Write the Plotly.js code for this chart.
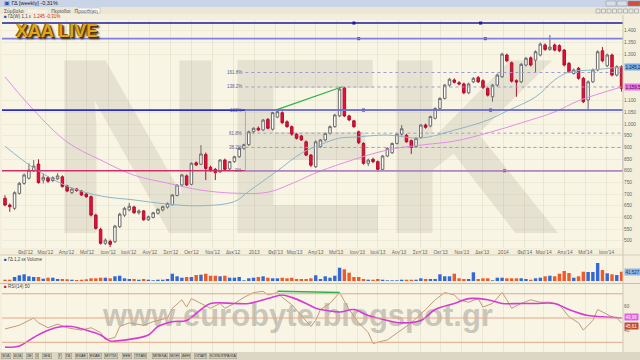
<!DOCTYPE html>
<html><head><meta charset="utf-8">
<script src="https://cdn.plot.ly/plotly-3.0.1.min.js"></script>
<style>html,body{margin:0;padding:0;background:#f3efdc;}#chart{width:640px;height:360px;}</style>
</head><body><div id="chart"></div>
<script>
// ---------- DATA (weekly, ΓΔ) ----------
const firstWeek = Date.UTC(2012, 0, 2);
const opens = [682,653,639,703,746,768,800,829,760,770, 758,765,774,735,706,722,713,700,689,610,
 549,489,497,496,560,610,632,645,620,628, 590,600,618,632,644,655,694,739,778,742,
 834,828,870,815,806,795,846,808,839,860, 896,912,967,982,975,1020,978,1030,1049,1010,
 989,957,949,924,867,817,903,932,960,989, 1035,1155,1035,1014,967,917,832,849,839,806,
 863,877,917,957,952,929,903,943,996,992, 1025,1067,1110,1167,1189,1177,1172,1134,1181,1199,
 1186,1153,1117,1167,1203,1296,1263,1186,1181,1253, 1284,1274,1296,1339,1320,1339,1336,1317,1260,1217,
 1239,1196,1103,1181,1232,1314,1250,1296,1210,1246];
const highs = [695,660,712,752,788,832,846,849,788,778, 776,790,780,740,728,726,718,704,694,616,
 556,510,505,568,620,645,662,650,634,632, 608,624,638,650,664,700,742,786,784,836,
 840,910,878,822,812,850,852,842,864,900, 916,972,986,990,1022,1026,1052,1060,1055,1016,
 994,962,954,930,872,930,936,964,994,1044, 1160,1160,1040,1018,972,922,852,856,844,868,
 900,921,962,996,958,934,944,1000,1002,1036, 1072,1115,1172,1198,1196,1184,1178,1178,1202,1206,
 1192,1158,1172,1216,1306,1302,1268,1192,1262,1288, 1290,1316,1350,1346,1382,1345,1342,1322,1266,1238,
 1245,1202,1187,1238,1316,1330,1302,1302,1252,1252];
const lows = [648,624,632,698,740,762,795,745,745,748, 752,760,728,708,700,710,692,684,604,548,
 484,482,473,490,555,602,626,616,612,586, 585,596,612,626,638,650,690,735,735,738,
 820,824,760,796,760,790,800,802,834,855, 890,906,960,970,970,978,972,1025,1000,984,
 950,934,928,862,816,812,898,926,955,984, 1030,1030,1012,984,914,826,820,832,796,800,
 858,872,912,950,920,872,898,938,980,986, 1020,1062,1105,1160,1174,1166,1128,1128,1175,1176,
 1150,1118,1096,1160,1198,1265,1178,1117,1175,1247, 1247,1220,1290,1314,1314,1312,1308,1247,1218,1212,
 1190,1090,1063,1176,1226,1265,1244,1204,1204,1139];
const closes = [653,646,706,746,782,803,820,749,772,755, 770,778,732,713,722,715,696,689,610,553,
 489,503,485,563,614,639,648,620,628,590, 603,620,635,646,660,696,739,782,739,832,
 825,872,810,800,792,846,806,839,860,896, 912,967,982,975,1017,982,1049,1053,1006,989,
 957,939,932,867,824,924,932,960,989,1039, 1150,1035,1018,989,920,832,846,839,806,863,
 896,917,957,980,924,900,939,996,986,1032, 1067,1110,1167,1192,1179,1172,1134,1172,1196,1181,
 1157,1124,1167,1210,1300,1271,1184,1180,1256,1282, 1253,1310,1343,1320,1330,1317,1314,1253,1224,1232,
 1196,1096,1181,1232,1310,1271,1296,1210,1246,1153];
const volumes = [13,13,40,57,67,47,40,40,23,33, 33,20,20,17,13,10,13,17,27,27,
 33,33,27,47,53,27,20,20,13,20, 13,7,13,13,20,73,47,33,40,40,
 60,63,73,53,53,47,53,33,33,40, 7,27,33,40,47,33,27,27,33,27,
 33,20,20,20,27,57,20,47,33,53, 133,117,83,40,40,20,13,13,20,13,
 7,7,7,13,13,13,13,27,20,20, 20,67,47,47,73,27,20,20,87,20,
 27,27,7,33,33,27,27,27,27,20, 13,27,33,47,53,47,73,100,80,33,
 47,93,90,90,180,110,77,67,60,93];
// moving averages (week index, value)
const maMidWeeks  = [0,6,13,20,27,34,41,48,51,57,62,66,70,73,80,87,94,101,105,111,115,118,123,129];
const maMidValues = [905,812,734,692,675,657,650,668,712,800,875,912,940,944,953,940,974,1017,1056,1116,1189,1223,1232,1245];
const maLongWeeks  = [0,6,13,20,27,34,41,48,55,60,66,80,87,94,101,108,115,120,129];
const maLongValues = [1202,1060,923,846,781,747,717,704,708,745,799,889,910,927,962,1005,1052,1100,1159];
// RSI and its signal line (week index, value)
const rsiWeeks  = [0,3,5,6,7,9,11,13,16,18,20,21,23,24,26,29,31,34,35,37,38,39,41,43,45,46,48,50,52,54,55,57,58,60,62,64,65,66,68,70,72,74,76,77,80,83,85,88,90,92,94,95,97,99,100,102,104,105,106,108,110,112,114,116,118,120,121,123,124,125,127,128,129];
const rsiValues = [41,44,48,50,46,42,45,42,40,42,38,32,34,43,46,44,47,50,58,65,59,66,62,58,62,58,62,67,71,72,69,71,67,61,52,43,48,57,62,71,57,46,38,29,32,40,46,57,65,71,69,65,63,66,59,62,71,65,58,62,65,63,63,61,51,46,40,48,57,55,51,50,46];
const sigWeeks  = [0,3,6,9,12,14,17,20,22,23,27,30,32,35,38,41,43,48,51,55,58,60,63,65,66,70,73,76,80,83,87,90,94,97,101,104,108,111,115,118,122,125,129];
const sigValues = [26,27,34,40,43,43,40,36,31,31,33,36,43,47,48,57,62,62,62,66,69,67,62,58,57,55,57,52,48,46,48,57,62,66,65,62,62,62,62,57,52,51,50];
// divergence lines (week index, value)
const divPriceWeeks = [56.6, 70.6], divPriceValues = [1060, 1160];
const divRsiWeeks = [57, 70], divRsiValues = [72, 71];
// horizontal levels and Fibonacci
const levelValues = [1433, 1366, 1060, 800];
const fibValues = [1221, 1159, 1060, 961, 900, 800];
const fibLabels = ['161.8%', '138.2%', '100%', '61.8%', '38.2%', '0%'];
// axis tick labels
const priceTicks = [500,550,600,650,700,750,800,850,900,950,1000,1050,1100,1300,1350,1400];
const rsiTicks = [60, 40];
const tickDates = ['2012-02-01','2012-03-01','2012-04-01','2012-05-01','2012-06-01','2012-07-01','2012-08-01','2012-09-01','2012-10-01','2012-11-01','2012-12-01',
 '2013-01-01','2013-02-01','2013-03-01','2013-04-01','2013-05-01','2013-06-01','2013-07-01','2013-08-01','2013-09-01','2013-10-01','2013-11-01','2013-12-01',
 '2014-01-01','2014-02-01','2014-03-01','2014-04-01','2014-05-01','2014-06-01'];
const tickText = ["Φεβ'12","Μαρ'12","Απρ'12","Μαΐ'12","Ιουν'12","Ιουλ'12","Αυγ'12","Σεπ'12","Οκτ'12","Νοε'12","Δεκ'12",
 "2013","Φεβ'13","Μαρ'13","Απρ'13","Μαΐ'13","Ιουν'13","Ιουλ'13","Αυγ'13","Σεπ'13","Οκτ'13","Νοε'13","Δεκ'13",
 "2014","Φεβ'14","Μαρ'14","Απρ'14","Μαΐ'14","Ιουν'14"];
const bottomTabs = ['3ΟΔ','6ΟΔ','1Ε','1','1ΕΔ','Γ','ΓΔ','ΕΧΑΕ','ΕΧΑΕ','ΜΥΤΙΛ','ΕΕΕ','ΤΙΤΑΝ','ΜΠΕΛΑ','ΜΟΗ','ΔΕΗ','ΟΠΑΠ','ΚΟΙΝΟΠΡΑΞΙΑ'];

// ---------- helpers ----------
function weekDate(w) {
  return new Date(firstWeek + w * 7 * 86400000).toISOString().slice(0, 19).replace('T', ' ');
}
const dates = opens.map((_, i) => weekDate(i));
const px = v => v / 640;          // paper x from pixels
const py = v => 1 - v / 360;      // paper y from pixels
const F = 'Liberation Sans, Arial, sans-serif';

// ---------- traces ----------
const traces = [];
traces.push({type:'candlestick', x:dates, open:opens, high:highs, low:lows, close:closes,
  xaxis:'x', yaxis:'y', whiskerwidth:0, hoverinfo:'skip',
  increasing:{line:{color:'#6a6a6a', width:1}, fillcolor:'#ffffff'},
  decreasing:{line:{color:'#b3102c', width:1}, fillcolor:'#e5103c'}});
traces.push({type:'scatter', mode:'lines', x:maMidWeeks.map(weekDate), y:maMidValues,
  line:{color:'#8fb4c4', width:1, shape:'spline'}, xaxis:'x', yaxis:'y', hoverinfo:'skip'});
traces.push({type:'scatter', mode:'lines', x:maLongWeeks.map(weekDate), y:maLongValues,
  line:{color:'#e48ee4', width:1, shape:'spline'}, xaxis:'x', yaxis:'y', hoverinfo:'skip'});
traces.push({type:'scatter', mode:'lines', x:divPriceWeeks.map(weekDate), y:divPriceValues,
  line:{color:'#2fb04a', width:1.2}, xaxis:'x', yaxis:'y', hoverinfo:'skip'});
// anchors on drawn lines
traces.push({type:'scatter', mode:'markers',
  x:[73,99.5,74,100.5,75,101.6,104.5].map(weekDate),
  y:[levelValues[0],levelValues[0],levelValues[1],levelValues[1],levelValues[2],levelValues[2],levelValues[3]],
  marker:{symbol:'square', size:3, color:['#1c1c9c','#1c1c9c','#3030c0','#3030c0','#2a2ad0','#2a2ad0','#c0306a']},
  xaxis:'x', yaxis:'y', hoverinfo:'skip'});
// volume
traces.push({type:'bar', x:dates, y:volumes, xaxis:'x', yaxis:'y2', hoverinfo:'skip',
  width: 5 * 86400000,
  marker:{color:closes.map((c, i) => c >= opens[i] ? '#3568d4' : '#ee5a2a'), line:{width:0}}});
// RSI
traces.push({type:'scatter', mode:'lines', x:rsiWeeks.map(weekDate), y:rsiValues,
  line:{color:'#c29a78', width:1}, xaxis:'x', yaxis:'y3', hoverinfo:'skip'});
traces.push({type:'scatter', mode:'lines', x:sigWeeks.map(weekDate), y:sigValues,
  line:{color:'#d43cd4', width:1.6, shape:'spline'}, xaxis:'x', yaxis:'y3', hoverinfo:'skip'});
traces.push({type:'scatter', mode:'lines', x:divRsiWeeks.map(weekDate), y:divRsiValues,
  line:{color:'#2fb04a', width:1.5}, xaxis:'x', yaxis:'y3', hoverinfo:'skip'});

// ---------- shapes ----------
const shapes = [];
const fibStart = weekDate(50.3), xEnd = weekDate(129.3);
// chrome: title bar, toolbar, bottom bar
shapes.push({type:'rect', xref:'paper', yref:'paper', x0:0, x1:1, y0:py(7), y1:1, fillcolor:'#c9d5e6', line:{width:0}, layer:'below'});
shapes.push({type:'rect', xref:'paper', yref:'paper', x0:0, x1:1, y0:py(14), y1:py(7), fillcolor:'#ece7d4', line:{width:0}, layer:'below'});
shapes.push({type:'rect', xref:'paper', yref:'paper', x0:px(77), x1:px(100), y0:py(13), y1:py(8), fillcolor:'#ffffff', line:{color:'#a0a0a0', width:0.5}});
shapes.push({type:'rect', xref:'paper', yref:'paper', x0:0, x1:1, y0:0, y1:py(352), fillcolor:'#dcd7c5', line:{width:0}});
// window buttons
[[606,616,'#d9dde4'],[617,627,'#d9dde4'],[628,640,'#d05040']].forEach(b =>
  shapes.push({type:'rect', xref:'paper', yref:'paper', x0:px(b[0]), x1:px(b[1]), y0:py(6), y1:py(1), fillcolor:b[2], line:{color:'#8090a0', width:0.5}}));
for (let k = 0; k < 8; k++) shapes.push({type:'rect', xref:'paper', yref:'paper', x0:px(596 + k*5.5), x1:px(600 + k*5.5), y0:py(13), y1:py(9), fillcolor:'#e8e8e8', line:{color:'#888', width:0.5}});
// watermark letters
[['N',48,228,'Liberation Sans, Arial, sans-serif'],['E',240,368,'Liberation Sans Narrow, Arial Narrow, sans-serif'],['K',380,560,'Liberation Sans, Arial, sans-serif']].forEach(l =>
  shapes.push({type:'rect', xref:'paper', yref:'paper', x0:px(l[1]), x1:px(l[2]), y0:py(212), y1:py(32), layer:'below',
    line:{width:0}, fillcolor:'rgba(0,0,0,0)',
    label:{text:l[0], textposition:'middle center', font:{family:l[3], size:250, color:'rgba(205,200,184,0.42)', weight:'bold'}}}));
shapes.push({type:'rect', xref:'paper', yref:'paper', x0:px(150), x1:px(446), y0:py(334), y1:py(290), layer:'below',
  line:{width:0}, fillcolor:'rgba(0,0,0,0)',
  label:{text:'www.eurobyte.blogspot.gr', textposition:'middle center', font:{family:'Liberation Sans Narrow, Arial Narrow, sans-serif', size:31, color:'rgba(160,158,150,0.55)', weight:'bold'}}});
// horizontal levels
const levelColors = ['#1c1c9c', '#8080e0', '#2a2ad0', '#d0306a'];
levelValues.forEach((v, k) => shapes.push({type:'line', xref:'x domain', yref:'y', x0:0, x1:1, y0:v, y1:v, line:{color:levelColors[k], width:1.6}}));
// fibonacci box and dotted levels
shapes.push({type:'rect', xref:'x', yref:'y', x0:fibStart, x1:xEnd, y0:fibValues[5], y1:fibValues[2], line:{color:'#a8a8dc', width:1}});
[0,1,3,4].forEach(k => shapes.push({type:'line', xref:'x', yref:'y', x0:fibStart, x1:xEnd, y0:fibValues[k], y1:fibValues[k], line:{color:'#9c9cd0', width:1, dash:'dot'}}));
// RSI reference lines
[70, 50, 30].forEach(v => shapes.push({type:'line', xref:'x domain', yref:'y3', x0:0, x1:1, y0:v, y1:v, line:{color:'#eaa588', width:1}}));
// panel separators and right axis border
shapes.push({type:'line', xref:'paper', yref:'paper', x0:0, x1:1, y0:py(283.5), y1:py(283.5), line:{color:'#c9c1a8', width:1}});
shapes.push({type:'line', xref:'paper', yref:'paper', x0:0, x1:1, y0:py(255), y1:py(255), line:{color:'#d8d0b8', width:1}});
shapes.push({type:'line', xref:'paper', yref:'paper', x0:px(623), x1:px(623), y0:py(352), y1:py(15), line:{color:'#d0c8b0', width:1}});

// ---------- annotations ----------
const ann = [];
const small = (text, x, y, opt) => Object.assign({xref:'paper', yref:'paper', x:px(x), y:py(y), text:text, showarrow:false,
  xanchor:'left', yanchor:'middle', font:{family:F, size:5.5, color:'#333'}}, opt || {});
ann.push(small('<span style="color:#3050b0">▣</span> ΓΔ [weekly] -0,31%', 2, 3.5, {font:{family:F, size:5.5, color:'#223'}}));
ann.push(small('Σύμβολο   <span style="color:#fff">Ανάλυση</span>   Περίοδοι   Προσθήκη', 2, 10.5, {font:{family:F, size:5, color:'#555'}}));
ann.push(small('<span style="color:#2050c0">■</span> ΓΔ(W) 1,1 ε  <span style="color:#d02020">1.245 -0,31%</span>', 2, 16.5, {font:{family:F, size:4.5, color:'#444'}}));
ann.push(small('<span style="color:#2050c0">■</span> ΓΔ 1,2 εκ Volume', 2, 259.5, {font:{family:F, size:4.5, color:'#444'}}));
ann.push(small('<span style="color:#c02020">■</span> RSI(14) 50', 2, 286.5, {font:{family:F, size:4.5, color:'#444'}}));
ann.push(small('XAA LIVE', 14, 30.5, {font:{family:F, size:18, color:'#e2a61a', weight:'bold', shadow:'1px 1px 0px #4a3000, -1px -1px 0px #7a5a10, 2px 2px 2px #302000'}}));
// fib labels
fibValues.forEach((v, k) => ann.push({xref:'x', yref:'y', x:fibStart, y:v, text:fibLabels[k], showarrow:false,
  xanchor:'right', yanchor:'middle', xshift:-1, font:{family:F, size:4.5, color:'#5a5a9a'}}));
// value boxes on right axis
const box = (text, yref, y, bg, fg, ys) => ({xref:'paper', yref:yref, x:px(623.5), y:y, yshift:ys || 0, text:text, showarrow:false, xanchor:'left', yanchor:'middle',
  bgcolor:bg, borderpad:0.5, font:{family:F, size:4.5, color:fg}});
ann.push(box('1.245,2', 'y', maMidValues[maMidValues.length - 1], '#76aee4', '#0a2a60'));
ann.push(box('1.159,5', 'y', maLongValues[maLongValues.length - 1], '#e878e8', '#4a004a'));
ann.push(box('41.527', 'y2', 90, '#8eb6e6', '#123a70'));
ann.push(box('49,96', 'y3', sigValues[sigValues.length - 1], '#e060e0', '#ffffff', 1));
ann.push(box('45,61', 'y3', 45, '#c04a30', '#ffffff', -1.5));
// bottom tabs
let bx = 1;
bottomTabs.forEach((t, k) => {
  const w = Math.max(5, t.length * 2.6 + 3);
  if (k === 5) bx += 3;
  ann.push({xref:'paper', yref:'paper', x:px(bx), y:py(356), text:t, showarrow:false, xanchor:'left', yanchor:'middle',
    bgcolor:'#cfcab8', bordercolor:'#9a9585', borderwidth:0.5, borderpad:0.5, font:{family:F, size:3.8, color:'#333'}});
  bx += w + 1.5;
});

// ---------- layout ----------
const layout = {
  width:640, height:360, margin:{l:0, r:0, t:0, b:0},
  paper_bgcolor:'#f3efdc', plot_bgcolor:'#f8f5e4',
  showlegend:false, hovermode:false, separators:',.', boxgap:0.25,
  font:{family:F, size:6, color:'#555'},
  xaxis:{domain:[px(2), px(623)], range:[weekDate(-0.63), xEnd], type:'date', anchor:'y',
    rangeslider:{visible:false}, tickvals:tickDates, ticktext:tickText, ticks:'',
    tickfont:{family:F, size:4.8, color:'#666'}, showgrid:true, gridcolor:'rgba(120,110,80,0.10)', zeroline:false, showline:false},
  yaxis:{domain:[py(248), py(20)], range:[469, 1446], side:'right', anchor:'x', tickvals:priceTicks, tickformat:',d',
    tickfont:{family:F, size:4.8, color:'#666'}, ticks:'', showgrid:true, gridcolor:'rgba(120,110,80,0.07)', zeroline:false},
  yaxis2:{domain:[py(281), py(256)], range:[0, 250], side:'right', anchor:'x', showticklabels:false, showgrid:false, zeroline:false, ticks:''},
  yaxis3:{domain:[py(352), py(285)], range:[22, 77.2], side:'right', anchor:'x', tickvals:rsiTicks, ticks:'',
    tickfont:{family:F, size:4.8, color:'#666'}, showgrid:false, zeroline:false},
  shapes:shapes, annotations:ann
};
Plotly.newPlot('chart', traces, layout, {staticPlot:true, displayModeBar:false});
</script></body></html>
